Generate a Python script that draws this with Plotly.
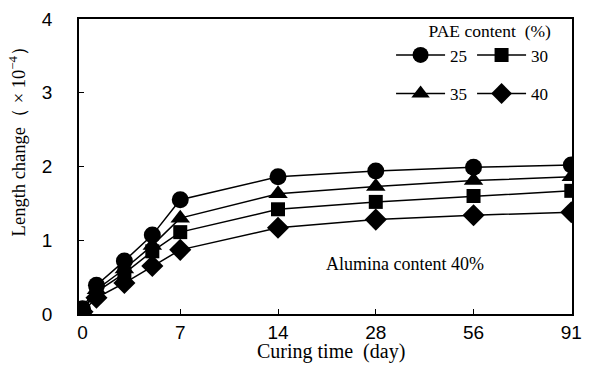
import plotly.graph_objects as go

days = [0, 1, 3, 5, 7, 14, 28, 56, 91]
tick_days = [0, 7, 14, 28, 56, 91]
tick_labels = ["0", "7", "14", "28", "56", "91"]
y_ticks = [0, 1, 2, 3, 4]

pae_25 = [0.07, 0.39, 0.72, 1.07, 1.55, 1.86, 1.94, 1.99, 2.02]
pae_30 = [0.04, 0.30, 0.55, 0.85, 1.11, 1.42, 1.52, 1.60, 1.67]
pae_35 = [0.05, 0.33, 0.61, 0.93, 1.30, 1.63, 1.73, 1.81, 1.86]
pae_40 = [0.03, 0.22, 0.42, 0.65, 0.87, 1.17, 1.28, 1.34, 1.38]

# display position for the non-uniform x axis (equal spacing after 14 days)
pos_map = {0: 0, 1: 1, 3: 3, 5: 5, 7: 7, 14: 14, 28: 21, 56: 28, 91: 35}
xpos = [pos_map[d] for d in days]
tick_pos = [pos_map[d] for d in tick_days]

series = [
    ("25", pae_25, "circle", 17, "legend"),
    ("30", pae_30, "square", 14, "legend"),
    ("35", pae_35, "triangle-up", 17, "legend2"),
    ("40", pae_40, "diamond", 17, "legend2"),
]

fig = go.Figure()
for name, vals, sym, size, leg in series:
    fig.add_trace(go.Scatter(
        x=xpos, y=vals, name=name, mode="lines+markers",
        line=dict(color="black", width=1.5),
        marker=dict(symbol=sym, size=size, color="black"),
        legend=leg,
    ))

serif = "Liberation Serif"
sans = "Liberation Sans"
pad = "\u2007\u2007"

fig.update_layout(
    width=591, height=367,
    margin=dict(l=79, r=9, t=12, b=53),
    paper_bgcolor="white", plot_bgcolor="white",
    showlegend=True,
    legend=dict(
        orientation="h", x=0.633, y=1.015, xanchor="left", yanchor="top",
        font=dict(family=serif, size=17, color="black"),
        title=dict(text="PAE content\u2002(%)", side="top right",
                   font=dict(family=serif, size=17.5, color="black")),
        bgcolor="rgba(0,0,0,0)", entrywidth=17, itemwidth=49,
    ),
    legend2=dict(
        orientation="h", x=0.633, y=0.807, xanchor="left", yanchor="top",
        font=dict(family=serif, size=17, color="black"),
        bgcolor="rgba(0,0,0,0)", entrywidth=17, itemwidth=49,
    ),
    xaxis=dict(
        range=[-0.25, 35.05], tickmode="array", tickvals=tick_pos, ticktext=tick_labels,
        ticks="inside", ticklen=5, tickcolor="black", showgrid=False, zeroline=False,
        showline=True, linecolor="black", linewidth=1.5, mirror=True,
        tickfont=dict(family=sans, size=19, color="black"),
    ),
    yaxis=dict(
        range=[0, 4], tickmode="array", tickvals=y_ticks,
        ticktext=[str(v) + pad for v in y_ticks],
        ticks="inside", ticklen=5, tickcolor="black", showgrid=False, zeroline=False,
        showline=True, linecolor="black", linewidth=1.5, mirror=True,
        tickfont=dict(family=sans, size=19, color="black"),
    ),
    annotations=[
        dict(
            text="Alumina content 40%", xref="paper", yref="paper", x=0.662, y=0.17,
            xanchor="center", yanchor="middle", showarrow=False,
            font=dict(family=serif, size=18, color="black"),
        ),
        dict(
            text="Length change（ × 10<sup>−4</sup>）", xref="paper", yref="paper",
            x=-0.125, y=0.6, xanchor="center", yanchor="middle", textangle=-90,
            showarrow=False, font=dict(family=serif, size=18.5, color="black"),
        ),
        dict(
            text="Curing time\u2002(day)", xref="paper", yref="paper",
            x=0.511, y=-0.127, xanchor="center", yanchor="middle",
            showarrow=False, font=dict(family=serif, size=20, color="black"),
        ),
    ],
)

fig.write_html("out.html")
